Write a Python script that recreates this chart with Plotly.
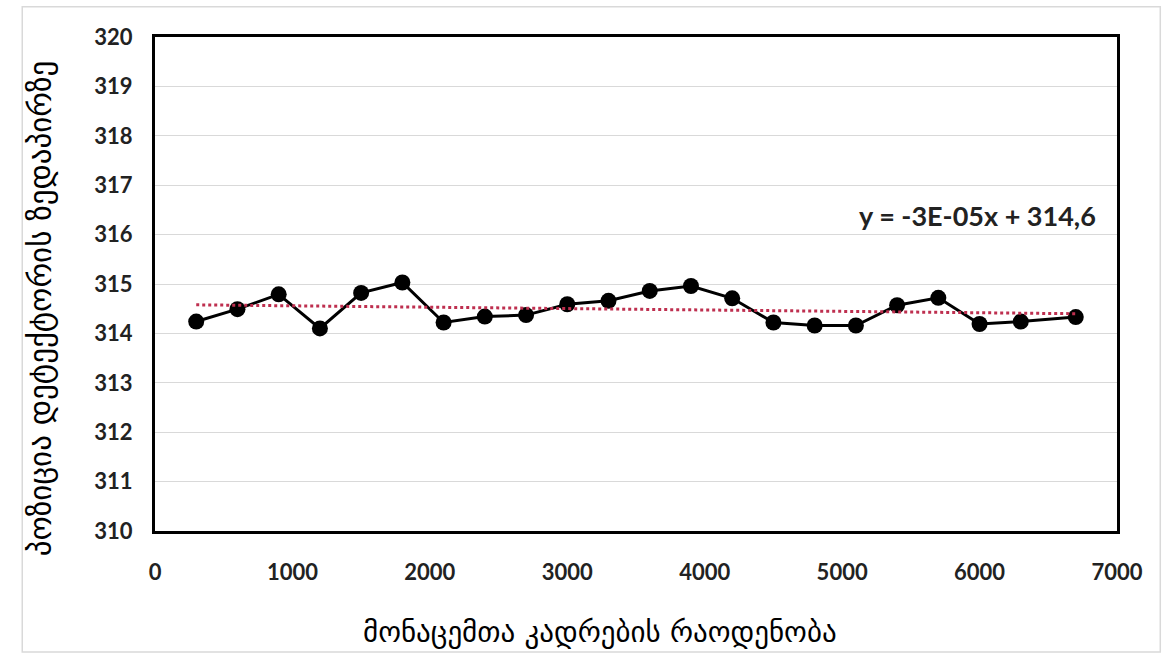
import numpy as np
import plotly.graph_objects as go

# Frame counts and measured positions
frames = [300, 600, 900, 1200, 1500, 1800, 2100, 2400, 2700, 3000, 3300,
          3600, 3900, 4200, 4500, 4800, 5100, 5400, 5700, 6000, 6300, 6700]
position = [314.24, 314.49, 314.79, 314.10, 314.82, 315.03, 314.22, 314.34,
            314.37, 314.59, 314.66, 314.86, 314.96, 314.71, 314.22, 314.16,
            314.16, 314.57, 314.72, 314.19, 314.24, 314.33]

x_ticks = [0, 1000, 2000, 3000, 4000, 5000, 6000, 7000]
y_ticks = [310, 311, 312, 313, 314, 315, 316, 317, 318, 319, 320]

x_title = "მონაცემთა კადრების რაოდენობა"
y_title = "პოზიცია დეტექტორის ზედაპირზე"
trend_label = "y = -3E-05x + 314,6"

# Linear trend line fitted to the measurements
slope, intercept = np.polyfit(frames, position, 1)
trend_x = [frames[0], frames[-1]]
trend_y = [slope * v + intercept for v in trend_x]

tick_font = dict(family="Lato", size=22, color="#222222", weight="bold")

fig = go.Figure()
fig.add_trace(go.Scatter(
    x=frames, y=position, mode="lines+markers",
    line=dict(color="black", width=3),
    marker=dict(color="black", size=16),
    showlegend=False,
))
fig.add_trace(go.Scatter(
    x=trend_x, y=trend_y, mode="lines",
    line=dict(color="#BE2F4F", width=3, dash="dot"),
    showlegend=False,
))

fig.add_annotation(
    x=6860, y=316.38, xref="x", yref="y", text=trend_label,
    showarrow=False, xanchor="right", yanchor="middle",
    font=dict(family="Lato", size=27, color="#222222", weight="bold"),
)

# Axis titles
fig.add_annotation(
    x=0.463, y=-0.205, xref="paper", yref="paper", text=x_title,
    showarrow=False, xanchor="center", yanchor="middle",
    font=dict(family="DejaVu Sans", size=29, color="black"),
)
fig.add_annotation(
    x=-0.12, y=0.45, xref="paper", yref="paper", text=y_title,
    showarrow=False, xanchor="center", yanchor="middle", textangle=-90,
    font=dict(family="DejaVu Sans", size=31, color="black"),
)

# Outer chart frame
fig.add_shape(type="rect", xref="paper", yref="paper",
              x0=-0.138, x1=1.045, y0=-0.245, y1=1.061,
              line=dict(color="#d9d9d9", width=1.5))

fig.update_xaxes(
    range=[0, 7000], tickvals=x_ticks, ticktext=[str(v) for v in x_ticks],
    tickfont=tick_font, showgrid=False, zeroline=False,
    showline=True, linecolor="black", linewidth=3, mirror=True,
    ticks="", ticklabelstandoff=20,
)
fig.update_yaxes(
    range=[310, 320], tickvals=y_ticks, ticktext=[str(v) for v in y_ticks],
    tickfont=tick_font, showgrid=True, gridcolor="#d9d9d9", gridwidth=1,
    zeroline=False, showline=True, linecolor="black", linewidth=3, mirror=True,
    ticks="", ticklabelstandoff=15,
)

fig.update_layout(
    width=1170, height=659,
    margin=dict(l=155, r=53, t=37, b=128),
    paper_bgcolor="white", plot_bgcolor="white",
)

fig.write_html("out.html")
